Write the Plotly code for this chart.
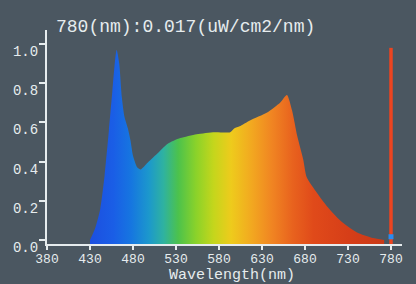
import plotly.graph_objects as go

# Spectrum data
wavelength = [430, 436, 442, 447, 452, 456, 459, 461, 464, 467, 470, 474, 477, 480, 485, 489,
              496, 508, 520, 535, 554, 575, 593, 598, 604, 616, 636, 651, 659, 665,
              671, 678, 682, 694, 706, 721, 740, 759, 772]
intensity = [0.0, 0.06, 0.16, 0.33, 0.56, 0.76, 0.91, 0.97, 0.90, 0.73, 0.63, 0.57, 0.51, 0.43, 0.37, 0.36,
             0.39, 0.44, 0.49, 0.52, 0.54, 0.55, 0.55, 0.57, 0.58, 0.61, 0.65, 0.70, 0.74, 0.66,
             0.53, 0.41, 0.32, 0.24, 0.17, 0.10, 0.04, 0.01, 0.0]

x_ticks = [380, 430, 480, 530, 580, 630, 680, 730, 780]
y_ticks = [0.0, 0.2, 0.4, 0.6, 0.8, 1.0]
y_tick_labels = ["0.0", "0.2", "0.4", "0.6", "0.8", "1.0"]

cursor_nm = 780
cursor_value = 0.017
cursor_top = 0.98
title_text = "780(nm):0.017(uW/cm2/nm)"
x_title = "Wavelength(nm)"

y_min = -0.02
y_max = 1.071
x_min = 380
x_max = 792.8

BG = "#4b5761"
FG = "#e6ecee"
FONT = "Liberation Mono"

fig = go.Figure()

# baseline for the fill
fig.add_trace(go.Scatter(
    x=[wavelength[0], wavelength[-1]], y=[y_min, y_min],
    mode="lines", line=dict(width=0, color="rgba(0,0,0,0)"),
    hoverinfo="skip", showlegend=False))

fig.add_trace(go.Scatter(
    x=wavelength, y=intensity, mode="lines", line_shape="spline",
    line=dict(width=0.5, color="rgba(0,0,0,0)", smoothing=0.6),
    fill="tonexty",
    fillgradient=dict(
        type="horizontal",
        colorscale=[
            [0.00, "#1c4fe0"],
            [0.08, "#1a5ee6"],
            [0.14, "#1676e0"],
            [0.20, "#1c98cc"],
            [0.25, "#2fb2a0"],
            [0.30, "#4cc24c"],
            [0.36, "#8ad22a"],
            [0.42, "#c4d61c"],
            [0.48, "#eecb1c"],
            [0.55, "#f2a820"],
            [0.62, "#f08422"],
            [0.69, "#e8621e"],
            [0.76, "#e04a1a"],
            [0.88, "#d63e18"],
            [1.00, "#c83a18"],
        ]),
    showlegend=False, hoverinfo="skip"))

# cursor line
fig.add_trace(go.Scatter(
    x=[cursor_nm, cursor_nm], y=[y_min, cursor_top], mode="lines",
    line=dict(color="#ec4420", width=3.5), showlegend=False, hoverinfo="skip"))
fig.add_trace(go.Scatter(
    x=[cursor_nm], y=[cursor_value], mode="markers",
    marker=dict(symbol="square", size=5, color="#2a8cf0"),
    showlegend=False, hoverinfo="skip"))

fig.update_layout(
    width=416, height=284,
    margin=dict(l=47, r=14, t=30, b=40),
    paper_bgcolor=BG, plot_bgcolor=BG,
    font=dict(family=FONT, color=FG, size=13),
    xaxis=dict(
        range=[x_min, x_max], tickvals=x_ticks, ticktext=[str(v) for v in x_ticks],
        showgrid=False, zeroline=False, showline=True, linecolor=FG, linewidth=2,
        ticks="outside", ticklen=4, tickcolor=FG, tickwidth=1.5,
        tickfont=dict(family=FONT, size=13, color=FG),
        ticklabelstandoff=-3,
    ),
    yaxis=dict(
        range=[y_min, y_max], tickvals=y_ticks, ticktext=y_tick_labels,
        showgrid=False, zeroline=False, showline=True, linecolor=FG, linewidth=2,
        ticks="outside", ticklen=6, tickcolor=FG, tickwidth=1.5,
        tickfont=dict(family=FONT, size=14, color=FG),
        ticklabelshift=7, ticklabelstandoff=-2,
    ),
    annotations=[
        dict(text=title_text, xref="paper", yref="paper", x=0.02, y=1.0, yshift=3,
             xanchor="left", yanchor="middle", showarrow=False,
             font=dict(family=FONT, size=18, color=FG)),
        dict(text=x_title, xref="paper", yref="paper", x=0.52, y=0, yshift=-31,
             xanchor="center", yanchor="middle", showarrow=False,
             font=dict(family=FONT, size=15, color=FG)),
    ],
)

fig.write_html("out.html")
